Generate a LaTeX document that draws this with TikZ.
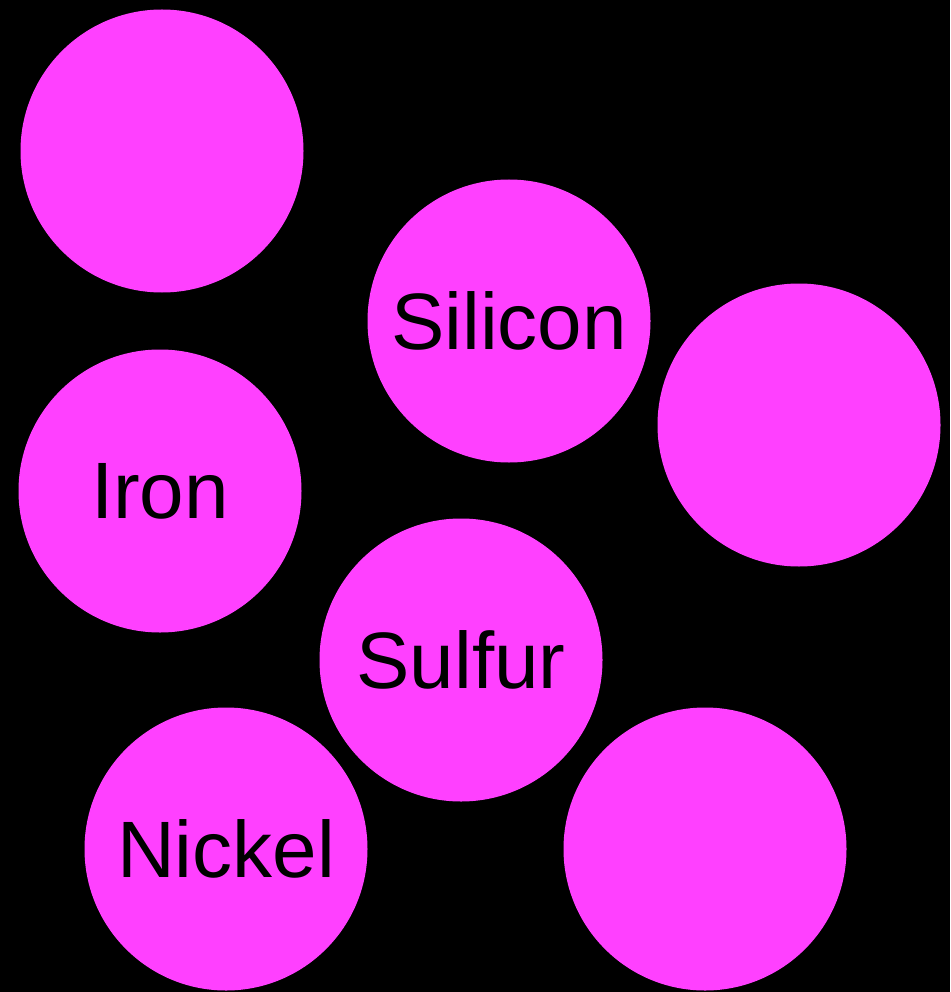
\documentclass[tikz,border=0pt]{standalone}
\usepackage{fontspec}
\setmainfont{Liberation Sans}
\definecolor{ballpink}{HTML}{FF40FF}
\begin{document}
\begin{tikzpicture}[x=1pt,y=-1pt,
  ball/.style={circle,fill=ballpink,draw=none,minimum size=283pt,inner sep=0pt,
    font=\fontsize{80}{96}\selectfont,text=black}]
  % black backdrop fixes the page size
  \fill[black] (0,0) rectangle (950,992);
  \useasboundingbox (0,0) rectangle (950,992);
  \node[ball] (b1) at (162,151) {};
  \node[ball] (silicon) at (509,321) {Silicon};
  \node[ball] (b2) at (799,425) {};
  \node[ball] (iron) at (160,491) {Iron};
  \node[ball] (sulfur) at (461,660) {Sulfur};
  \node[ball] (nickel) at (226,849) {Nickel};
  \node[ball] (b3) at (705,849) {};
\end{tikzpicture}
\end{document}
